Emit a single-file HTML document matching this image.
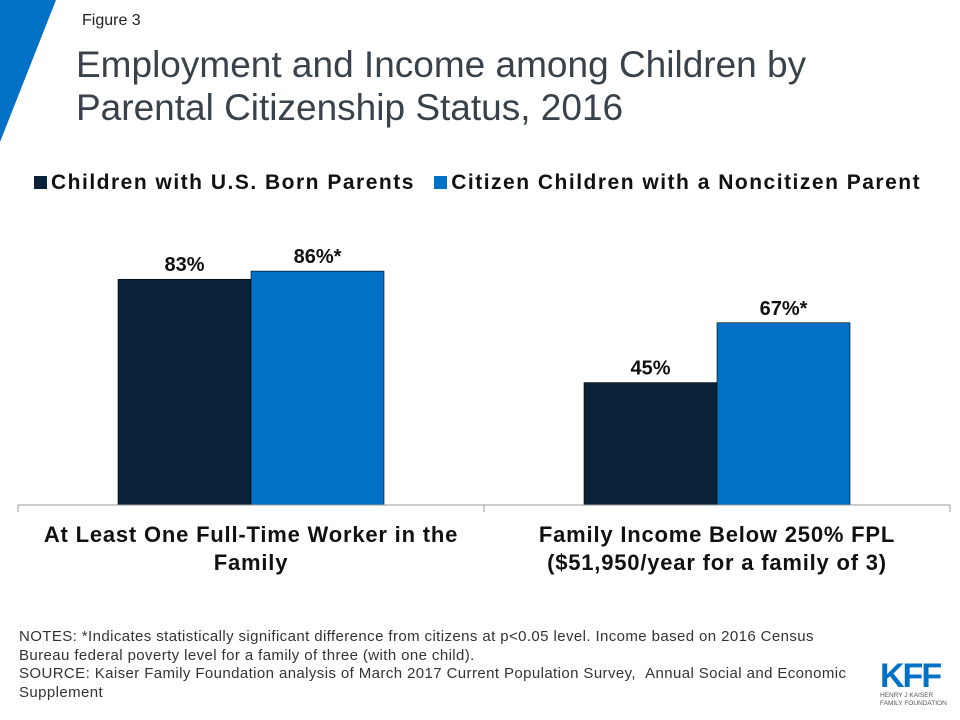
<!DOCTYPE html>
<html><head><meta charset="utf-8"><style>
body{margin:0;width:960px;height:720px;background:#fff;overflow:hidden;font-family:"Liberation Sans",sans-serif;position:relative}
.abs{position:absolute}
</style></head><body>
<svg class="abs" style="left:0;top:0" width="60" height="150"><polygon points="0,0 56,0 0,142" fill="#0071c5"/></svg>
<div class="abs" style="left:82px;top:12px;font-size:16px;color:#222">Figure 3</div>
<div class="abs" style="left:76px;top:43px;font-size:37px;line-height:43px;color:#39424a;white-space:nowrap">Employment and Income among Children by<br>Parental Citizenship Status, 2016</div>
<div class="abs" style="left:34px;top:171px;font-size:21px;letter-spacing:1.5px;font-weight:bold;color:#111;white-space:nowrap">
<span><span style="display:inline-block;width:13px;height:13px;background:#0a2339;margin-right:4px"></span>Children with U.S. Born Parents</span>
<span style="margin-left:12px"><span style="display:inline-block;width:13px;height:13px;background:#0071c5;margin-right:4px"></span>Citizen Children with a Noncitizen Parent</span>
</div>
<svg id="chart" class="abs" style="left:0;top:0" width="960" height="600"></svg>
<div class="abs" style="left:18px;top:521px;width:466px;text-align:center;font-size:22px;letter-spacing:0.8px;font-weight:bold;line-height:28px;color:#111;white-space:nowrap">At Least One Full-Time Worker in the<br>Family</div>
<div class="abs" style="left:484px;top:521px;width:466px;text-align:center;font-size:22px;letter-spacing:0.8px;font-weight:bold;line-height:28px;color:#111;white-space:nowrap">Family Income Below 250% FPL<br>($51,950/year for a family of 3)</div>
<div class="abs" style="left:19px;top:628px;font-size:15px;letter-spacing:0.4px;line-height:18.5px;color:#333;white-space:nowrap">NOTES: *Indicates statistically significant difference from citizens at p&lt;0.05 level. Income based on 2016 Census<br>Bureau federal poverty level for a family of three (with one child).<br>SOURCE: Kaiser Family Foundation analysis of March 2017 Current Population Survey, &nbsp;Annual Social and Economic<br>Supplement</div>
<div class="abs" style="left:880px;top:660px;color:#0071c5">
<div style="font-size:34px;font-weight:bold;line-height:32px;letter-spacing:-2px">KFF</div>
<div style="font-size:6.5px;line-height:8px;color:#555">HENRY J KAISER<br>FAMILY FOUNDATION</div></div>
<script>
const categories=["At Least One Full-Time Worker in the Family","Family Income Below 250% FPL"];
const usBorn=[83,45];
const noncitizen=[86,67];
const usLabels=["83%","45%"];
const ncLabels=["86%*","67%*"];
const svg=document.getElementById('chart');
const NS='http://www.w3.org/2000/svg';
const base=505, pxPer=2.72;
function y(v){return base-v*pxPer;}
function groupX(i){return 118+i*466;}
const bw=133;
function mk(t,a){const e=document.createElementNS(NS,t);for(const k in a)e.setAttribute(k,a[k]);svg.appendChild(e);return e;}
const series=[[usBorn,usLabels,'#0a2339','us-born'],[noncitizen,ncLabels,'#0071c5','noncitizen']];
categories.forEach((c,i)=>{
 series.forEach((s,j)=>{
  const v=s[0][i];const x=groupX(i)+j*bw;
  const r=mk('rect',{x:x,y:y(v),width:bw,height:base-y(v),fill:s[2],stroke:'#000','stroke-width':0.6});
  
  
  const t=mk('text',{x:x+bw/2,y:y(v)-8,'text-anchor':'middle','font-size':20,'font-weight':'bold',fill:'#111','font-family':'Liberation Sans, sans-serif'});
  t.textContent=s[1][i];
  
  
 });
});
const ax=mk('line',{x1:18,x2:950,y1:base,y2:base,stroke:'#999','stroke-width':1});


[18,484,950].forEach(x=>{const t=mk('line',{x1:x,x2:x,y1:base,y2:base+7,stroke:'#999'});

});
</script>
</body></html>
